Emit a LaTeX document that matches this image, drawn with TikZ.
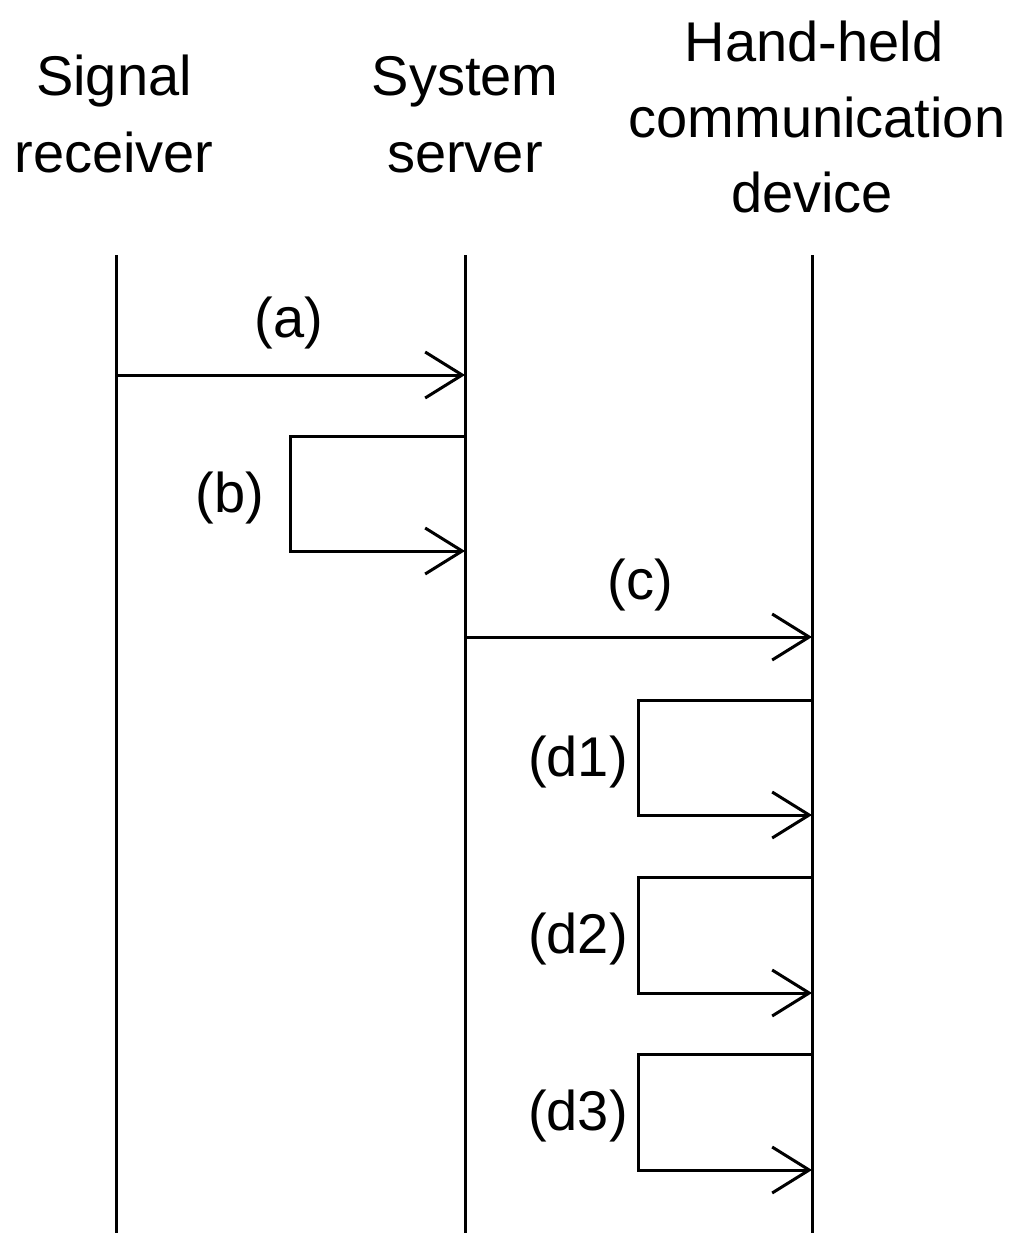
\documentclass[tikz,border=0pt]{standalone}
\usepackage{fontspec}
\setmainfont{Liberation Sans}
\usetikzlibrary{arrows.meta}
\begin{document}
\begin{tikzpicture}[x=1pt,y=-1pt,line width=3pt,
  lbl/.style={inner sep=0pt,anchor=base,font=\fontsize{56}{67}\selectfont},
  msg/.style={-{Straight Barb[length=37pt,width=46pt,line width=3pt]}},
  lifeline/.style={line width=3pt}]
\useasboundingbox (0,0) rectangle (1018,1233);

% column headings
\node[lbl] (hrA) at (114,96)  {Signal};
\node[lbl] (hrB) at (114,173) {receiver};
\node[lbl] (hsA) at (465,96)  {System};
\node[lbl] (hsB) at (465,173) {server};
\node[lbl] (hdA) at (814,62)  {Hand-held};
\node[lbl] (hdB) at (817,138) {communication};
\node[lbl] (hdC) at (812,213) {device};

% lifelines
\coordinate (rTop) at (116,255);  \coordinate (rBot) at (116,1233);
\coordinate (sTop) at (465,255);  \coordinate (sBot) at (465,1233);
\coordinate (dTop) at (812,255);  \coordinate (dBot) at (812,1233);
\draw[lifeline] (rTop) -- (rBot);
\draw[lifeline] (sTop) -- (sBot);
\draw[lifeline] (dTop) -- (dBot);

% (a) receiver -> server
\coordinate (aS) at (116,375); \coordinate (aE) at (465,375);
\draw[msg] (aS) -- (aE);
\node[lbl] (la) at (289,337) {(a)};

% (b) server self message
\coordinate (bS) at (465,436); \coordinate (bE) at (465,551);
\draw[msg] (bS) -- ++(-175,0) |- (bE);
\node[lbl] (lb) at (230,512) {(b)};

% (c) server -> device
\coordinate (cS) at (465,637); \coordinate (cE) at (812,637);
\draw[msg] (cS) -- (cE);
\node[lbl] (lc) at (640,599) {(c)};

% (d1)-(d3) device self messages
\coordinate (d1S) at (812,700);  \coordinate (d1E) at (812,815);
\coordinate (d2S) at (812,877);  \coordinate (d2E) at (812,993);
\coordinate (d3S) at (812,1054); \coordinate (d3E) at (812,1170);
\draw[msg] (d1S) -- ++(-174,0) |- (d1E);
\draw[msg] (d2S) -- ++(-174,0) |- (d2E);
\draw[msg] (d3S) -- ++(-174,0) |- (d3E);
\node[lbl] (ld1) at (578,776)  {(d1)};
\node[lbl] (ld2) at (578,953)  {(d2)};
\node[lbl] (ld3) at (578,1130) {(d3)};
\end{tikzpicture}
\end{document}
